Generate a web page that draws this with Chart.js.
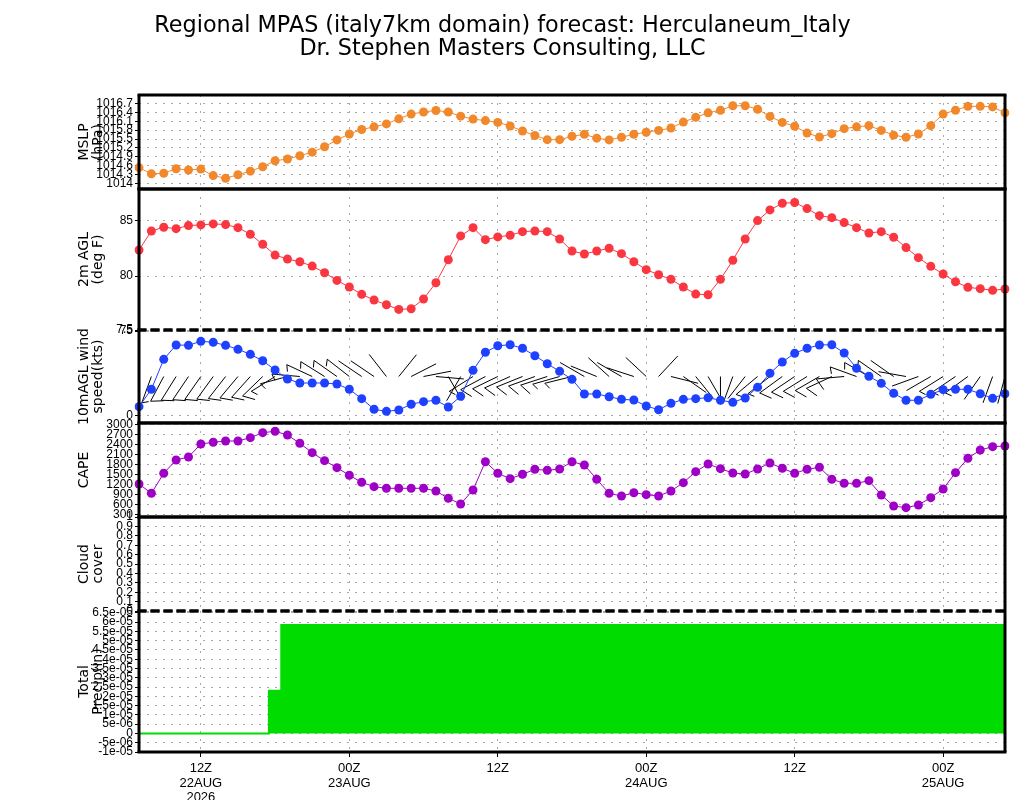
<!DOCTYPE html>
<html lang="en">
<head>
<meta charset="utf-8">
<title>Regional MPAS meteogram - Herculaneum_Italy</title>
<script src="https://cdn.jsdelivr.net/npm/chart.js@4.4.0/dist/chart.umd.min.js"></script>
<style>
	body { margin: 0; background: #ffffff; }
	#meteogram { position: relative; width: 1024px; height: 800px; overflow: hidden; }
	#meteogram canvas { position: absolute; left: 0; top: 0; }
</style>
</head>
<body>
<div id="meteogram">
	<canvas id="chartMslp" width="1024" height="800"></canvas>
	<canvas id="chartTemp" width="1024" height="800"></canvas>
	<canvas id="chartWind" width="1024" height="800"></canvas>
	<canvas id="chartCape" width="1024" height="800"></canvas>
	<canvas id="chartCloud" width="1024" height="800"></canvas>
	<canvas id="chartPrecip" width="1024" height="800"></canvas>
</div>
<script>
// hourly valid times (day/hour UTC), 07Z 22AUG 2026 .. 05Z 25AUG 2026
var validTimes = [
	'22/07', '22/08', '22/09', '22/10', '22/11', '22/12', '22/13', '22/14', '22/15', '22/16', '22/17', '22/18',
	'22/19', '22/20', '22/21', '22/22', '22/23',
	'23/00', '23/01', '23/02', '23/03', '23/04', '23/05', '23/06', '23/07', '23/08', '23/09', '23/10', '23/11',
	'23/12', '23/13', '23/14', '23/15', '23/16', '23/17', '23/18', '23/19', '23/20', '23/21', '23/22', '23/23',
	'24/00', '24/01', '24/02', '24/03', '24/04', '24/05', '24/06', '24/07', '24/08', '24/09', '24/10', '24/11',
	'24/12', '24/13', '24/14', '24/15', '24/16', '24/17', '24/18', '24/19', '24/20', '24/21', '24/22', '24/23',
	'25/00', '25/01', '25/02', '25/03', '25/04', '25/05',
];
var xTickTimes = ['22/12', '23/00', '23/12', '24/00', '24/12', '25/00'];
var xTickText = [['12Z', '22AUG', '2026'], ['00Z', '23AUG'], ['12Z'], ['00Z', '24AUG'], ['12Z'], ['00Z', '25AUG']];

var mslp = [
	1014.54, 1014.33, 1014.35, 1014.50, 1014.46, 1014.49, 1014.27, 1014.18, 1014.30, 1014.42,
	1014.57, 1014.77, 1014.83, 1014.94, 1015.06, 1015.24, 1015.47, 1015.67, 1015.82, 1015.91,
	1016.01, 1016.18, 1016.34, 1016.41, 1016.46, 1016.41, 1016.27, 1016.17, 1016.12, 1016.06,
	1015.94, 1015.77, 1015.62, 1015.48, 1015.48, 1015.59, 1015.66, 1015.53, 1015.47, 1015.56,
	1015.66, 1015.73, 1015.79, 1015.87, 1016.07, 1016.23, 1016.38, 1016.47, 1016.62, 1016.62,
	1016.50, 1016.26, 1016.06, 1015.93, 1015.70, 1015.57, 1015.68, 1015.85, 1015.91, 1015.95,
	1015.79, 1015.63, 1015.56, 1015.67, 1015.95, 1016.34, 1016.47, 1016.60, 1016.60, 1016.58,
	1016.38,
];
var temp2m = [
	82.36, 84.09, 84.43, 84.30, 84.58, 84.64, 84.73, 84.67, 84.39, 83.79,
	82.88, 81.90, 81.55, 81.30, 80.90, 80.30, 79.60, 79.00, 78.34, 77.82,
	77.39, 76.97, 77.03, 77.91, 79.39, 81.48, 83.64, 84.39, 83.30, 83.55,
	83.70, 84.03, 84.09, 84.03, 83.36, 82.27, 82.00, 82.27, 82.52, 82.03,
	81.30, 80.58, 80.12, 79.70, 79.00, 78.36, 78.30, 79.70, 81.43, 83.36,
	85.03, 86.00, 86.61, 86.67, 86.12, 85.48, 85.30, 84.85, 84.39, 83.91,
	84.03, 83.52, 82.58, 81.67, 80.88, 80.18, 79.48, 78.97, 78.85, 78.70,
	78.82,
];
var windSpeed = [
	0.79, 2.31, 4.93, 6.19, 6.16, 6.51, 6.42, 6.16, 5.81, 5.37,
	4.81, 4.00, 3.21, 2.86, 2.86, 2.86, 2.77, 2.31, 1.49, 0.56,
	0.38, 0.50, 1.00, 1.23, 1.35, 0.76, 1.70, 3.97, 5.55, 6.12,
	6.21, 5.90, 5.25, 4.55, 3.88, 3.18, 1.90, 1.90, 1.66, 1.43,
	1.37, 0.85, 0.52, 1.08, 1.43, 1.49, 1.57, 1.35, 1.17, 1.55,
	2.48, 3.71, 4.70, 5.46, 5.90, 6.19, 6.21, 5.49, 4.15, 3.45,
	2.83, 1.96, 1.35, 1.35, 1.87, 2.28, 2.31, 2.31, 1.92, 1.52,
	1.92,
];
// direction the wind blows from, degrees
var windDir = [
	188, 200, 208, 212, 214, 215, 216, 218, 220, 222,
	226, 238, 255, 275, 295, 302, 305, 308, 304, 304,
	322, 39, 63, 79, 95, 150, 210, 238, 242, 244,
	246, 248, 250, 252, 254, 256, 300, 292, 312, 300,
	288, 313, 43, 104, 125, 141, 150, 180, 200, 218,
	230, 232, 234, 236, 238, 240, 245, 265, 290, 300,
	305, 305, 280, 250, 240, 238, 236, 234, 215, 200,
	195,
];
var cape = [
	1222, 945, 1540, 1936, 2025, 2411, 2462, 2501, 2501, 2600,
	2748, 2789, 2679, 2432, 2153, 1915, 1707, 1481, 1272, 1142,
	1094, 1094, 1094, 1094, 1014, 797, 627, 1044, 1885, 1540,
	1380, 1510, 1659, 1629, 1668, 1885, 1787, 1362, 945, 865,
	963, 904, 865, 1014, 1261, 1588, 1817, 1677, 1549, 1519,
	1668, 1846, 1689, 1540, 1659, 1719, 1362, 1243, 1243, 1320,
	895, 568, 517, 597, 815, 1073, 1558, 1986, 2233, 2332,
	2352,
];
var precipTotal = [
	0, 0, 0, 0, 0, 0, 0, 0, 0, 0,
	0, 2.3e-5, 5.84e-5, 5.84e-5, 5.84e-5, 5.84e-5, 5.84e-5, 5.84e-5, 5.84e-5, 5.84e-5,
	5.84e-5, 5.84e-5, 5.84e-5, 5.84e-5, 5.84e-5, 5.84e-5, 5.84e-5, 5.84e-5, 5.84e-5, 5.84e-5,
	5.84e-5, 5.84e-5, 5.84e-5, 5.84e-5, 5.84e-5, 5.84e-5, 5.84e-5, 5.84e-5, 5.84e-5, 5.84e-5,
	5.84e-5, 5.84e-5, 5.84e-5, 5.84e-5, 5.84e-5, 5.84e-5, 5.84e-5, 5.84e-5, 5.84e-5, 5.84e-5,
	5.84e-5, 5.84e-5, 5.84e-5, 5.84e-5, 5.84e-5, 5.84e-5, 5.84e-5, 5.84e-5, 5.84e-5, 5.84e-5,
	5.84e-5, 5.84e-5, 5.84e-5, 5.84e-5, 5.84e-5, 5.84e-5, 5.84e-5, 5.84e-5, 5.84e-5, 5.84e-5,
	5.84e-5,
];

var mslpTicks = [1014, 1014.3, 1014.6, 1014.9, 1015.2, 1015.5, 1015.8, 1016.1, 1016.4, 1016.7];
var mslpTickText = ['1014', '1014.3', '1014.6', '1014.9', '1015.2', '1015.5', '1015.8', '1016.1', '1016.4', '1016.7'];
var tempTicks = [75, 80, 85];
var tempTickText = ['75', '80', '85'];
var windTicks = [0, 7.5];
var windTickText = ['0', '7.5'];
var capeTicks = [300, 600, 900, 1200, 1500, 1800, 2100, 2400, 2700, 3000];
var capeTickText = ['300', '600', '900', '1200', '1500', '1800', '2100', '2400', '2700', '3000'];
var cloudTicks = [0, 0.1, 0.2, 0.3, 0.4, 0.5, 0.6, 0.7, 0.8, 0.9, 1];
var cloudTickText = ['0', '0.1', '0.2', '0.3', '0.4', '0.5', '0.6', '0.7', '0.8', '0.9', '1'];
var precipTicks = [-1e-5, -5e-6, 0, 5e-6, 1e-5, 1.5e-5, 2e-5, 2.5e-5, 3e-5, 3.5e-5, 4e-5, 4.5e-5, 5e-5, 5.5e-5, 6e-5, 6.5e-5];
var precipTickText = ['-1e-05', '-5e-06', '0', '5e-06', '1e-05', '1.5e-05', '2e-05', '2.5e-05', '3e-05', '3.5e-05',
	'4e-05', '4.5e-05', '5e-05', '5.5e-05', '6e-05', '6.5e-05'];

var PLOT_LEFT = 139;
var PLOT_RIGHT = 1005;
var GRID_GREY = '#a9a9a9';
var TICK_FONT = { family: '"Liberation Sans", Arial, sans-serif', size: 12 };
var AXIS_FONT = { family: '"DejaVu Sans", sans-serif', size: 14, lineHeight: 1.04 };

Chart.defaults.font.family = '"Liberation Sans", Arial, sans-serif';
Chart.defaults.color = '#000';

// thick black box round each panel, some separators dashed
var framePlugin = {
	id: 'frame',
	afterDatasetsDraw: function (chart, args, opts) {
		var a = chart.chartArea;
		var ctx = chart.ctx;
		var line = function (x1, y1, x2, y2, dash) {
			ctx.setLineDash(dash ? [9, 4] : []);
			ctx.beginPath();
			ctx.moveTo(x1, y1);
			ctx.lineTo(x2, y2);
			ctx.stroke();
		};
		ctx.save();
		ctx.strokeStyle = '#000';
		ctx.lineWidth = 3;
		line(a.left - 1.5, a.top, a.right + 1.5, a.top, opts.topDash);
		line(a.left - 1.5, a.bottom, a.right + 1.5, a.bottom, opts.bottomDash);
		line(a.left, a.top, a.left, a.bottom);
		line(a.right, a.top, a.right, a.bottom);
		ctx.restore();
	},
};

// wind barbs anchored on the middle of the wind panel
var barbPlugin = {
	id: 'barbs',
	beforeDatasetsDraw: function (chart) {
		var a = chart.chartArea;
		var xs = chart.scales.x;
		var ctx = chart.ctx;
		var yBase = (a.top + a.bottom) / 2;
		var staff = 28;
		ctx.save();
		ctx.beginPath();
		ctx.rect(a.left, a.top, a.right - a.left, a.bottom - a.top);
		ctx.clip();
		ctx.strokeStyle = '#000';
		ctx.lineWidth = 1;
		windDir.forEach(function (dir, i) {
			var x0 = xs.getPixelForValue(i);
			var rad = dir * Math.PI / 180;
			var ux = Math.sin(rad);
			var uy = -Math.cos(rad);
			var tx = x0 + ux * staff;
			var ty = yBase + uy * staff;
			var spd = windSpeed[i];
			var len = spd >= 4.5 ? 13 : (spd >= 2 ? 7 : 0);
			ctx.beginPath();
			ctx.moveTo(x0, yBase);
			ctx.lineTo(tx, ty);
			if (len) {
				var ang = Math.atan2(uy, ux) - 120 * Math.PI / 180;
				ctx.moveTo(tx, ty);
				ctx.lineTo(tx + Math.cos(ang) * len, ty + Math.sin(ang) * len);
			}
			ctx.stroke();
		});
		ctx.restore();
	},
};

function dotSeries(values, color) {
	return {
		data: values,
		borderColor: color,
		backgroundColor: color,
		borderWidth: 1,
		pointRadius: 4.5,
		pointBorderWidth: 0,
		pointBackgroundColor: color,
		tension: 0,
	};
}

function makePanel(canvasId, panel) {
	return new Chart(document.getElementById(canvasId), {
		type: 'line',
		data: { labels: validTimes, datasets: panel.datasets },
		options: {
			responsive: false,
			animation: false,
			devicePixelRatio: 1,
			layout: { padding: { left: 0, right: 1024 - PLOT_RIGHT, top: panel.padTop, bottom: panel.padBottom } },
			plugins: {
				legend: { display: false },
				tooltip: { enabled: false },
				title: panel.title || { display: false },
				frame: { topDash: !!panel.topDash, bottomDash: !!panel.bottomDash },
			},
			scales: {
				x: {
					type: 'category',
					offset: false,
					afterBuildTicks: function (s) {
						s.ticks = xTickTimes.map(function (t) {
							return { value: validTimes.indexOf(t) };
						});
					},
					afterFit: function (s) {
						s.height = panel.showX ? 48 : 0;
						s.paddingLeft = 0;
						s.paddingRight = 0;
					},
					grid: { color: GRID_GREY, drawTicks: !!panel.showX, tickLength: 5, tickColor: '#000', tickWidth: 1, tickBorderDash: [] },
					border: { display: false, dash: [2, 6] },
					ticks: {
						display: !!panel.showX,
						autoSkip: false,
						maxRotation: 0,
						padding: 3.5,
						color: '#000',
						font: { family: '"Liberation Sans", Arial, sans-serif', size: 13, lineHeight: 1.15 },
						callback: function (v, i) {
							return xTickText[i];
						},
					},
				},
				y: {
					type: 'linear',
					min: panel.min,
					max: panel.max,
					afterBuildTicks: function (s) {
						s.ticks = panel.ticks.map(function (v) {
							return { value: v };
						});
					},
					afterFit: function (s) {
						s.width = PLOT_LEFT;
						s.paddingTop = 0;
						s.paddingBottom = 0;
					},
					grid: { color: GRID_GREY, tickLength: 4, tickColor: '#000', tickWidth: 1, tickBorderDash: [] },
					border: { display: false, dash: [2, 6] },
					ticks: {
						autoSkip: false,
						padding: 2,
						color: '#000',
						font: TICK_FONT,
						callback: function (v, i) {
							return panel.tickText[i];
						},
					},
					title: { display: true, text: panel.axisTitle, color: '#000', font: AXIS_FONT, padding: { top: 76.7, bottom: 0 } },
				},
			},
		},
		plugins: [framePlugin].concat(panel.plugins || []),
	});
}

makePanel('chartMslp', {
	padTop: 0,
	padBottom: 800 - 189,
	min: 1013.82,
	max: 1016.98,
	ticks: mslpTicks,
	tickText: mslpTickText,
	axisTitle: ['MSLP', '(hPa)'],
	title: {
		display: true,
		text: ['Regional MPAS (italy7km domain) forecast: Herculaneum_Italy', 'Dr. Stephen Masters Consulting, LLC'],
		color: '#000',
		font: { family: '"DejaVu Sans", sans-serif', size: 22.3, weight: 'normal', lineHeight: 1.05 },
		padding: { top: 14.2, bottom: 34.0 },
	},
	datasets: [dotSeries(mslp, '#f2882c')],
});

makePanel('chartTemp', {
	padTop: 189,
	padBottom: 800 - 330,
	min: 75.1,
	max: 87.9,
	ticks: tempTicks,
	tickText: tempTickText,
	axisTitle: ['2m AGL', '(deg F)'],
	bottomDash: true,
	datasets: [dotSeries(temp2m, '#fa3741')],
});

makePanel('chartWind', {
	padTop: 330,
	padBottom: 800 - 423,
	min: -0.64,
	max: 7.5,
	ticks: windTicks,
	tickText: windTickText,
	axisTitle: ['10mAGL wind', 'speed(kts)'],
	topDash: true,
	plugins: [barbPlugin],
	datasets: [dotSeries(windSpeed, '#1e40ff')],
});

makePanel('chartCape', {
	padTop: 423,
	padBottom: 800 - 517,
	min: 240,
	max: 3036,
	ticks: capeTicks,
	tickText: capeTickText,
	axisTitle: 'CAPE',
	datasets: [dotSeries(cape, '#9f00c5')],
});

makePanel('chartCloud', {
	padTop: 517,
	padBottom: 800 - 611,
	min: 0,
	max: 1,
	ticks: cloudTicks,
	tickText: cloudTickText,
	axisTitle: ['Cloud', 'cover'],
	bottomDash: true,
	datasets: [],
});

makePanel('chartPrecip', {
	padTop: 611,
	padBottom: 0,
	min: -1e-5,
	max: 6.6e-5,
	ticks: precipTicks,
	tickText: precipTickText,
	axisTitle: ['Total', 'Precip(in)'],
	topDash: true,
	showX: true,
	datasets: [
		{
			data: precipTotal,
			stepped: 'middle',
			borderColor: '#00dc00',
			backgroundColor: '#00dc00',
			borderWidth: 2,
			fill: 'origin',
			pointRadius: 0,
		},
	],
});
</script>
</body>
</html>
